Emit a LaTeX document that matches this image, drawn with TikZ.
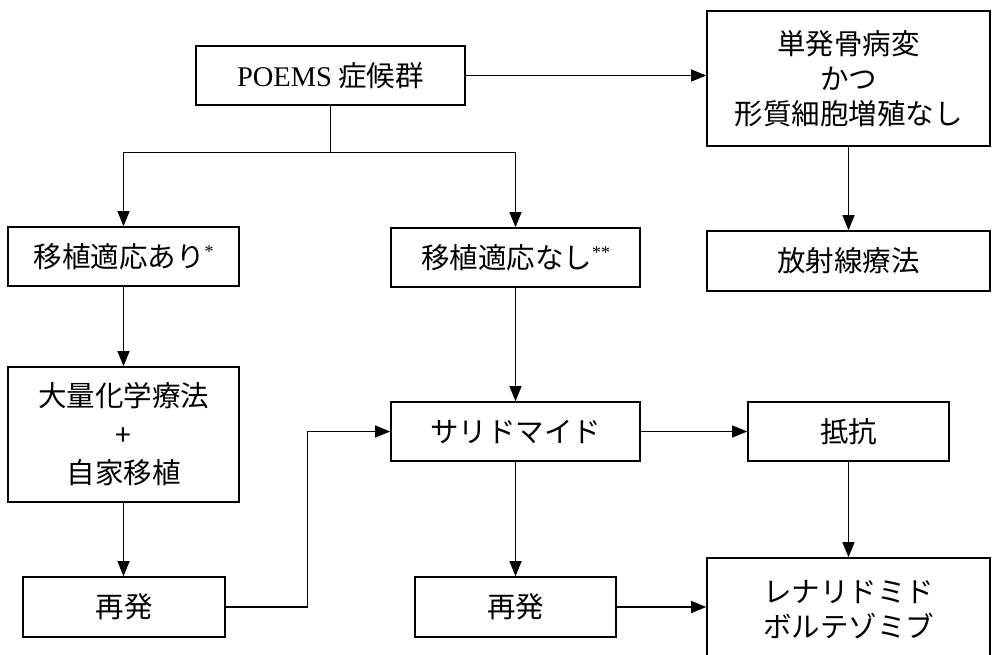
\documentclass[tikz,border=0pt]{standalone}
\usepackage{fontspec}
\setmainfont{Liberation Serif}
\newfontfamily\jp{Noto Sans CJK JP}
\usetikzlibrary{arrows.meta}
\newcommand\supast[1]{\raisebox{10pt}{\rmfamily\fontsize{18}{18}\selectfont #1}}
\tikzset{
  box/.style={draw=black, line width=1.6pt, inner sep=0pt, align=center,
    font=\jp\fontsize{28.5}{35}\selectfont},
  conn/.style={line width=1.1pt, -{Triangle[length=15pt,width=12pt]}},
  plain/.style={line width=1.1pt},
}
\begin{document}
\begin{tikzpicture}[x=1pt,y=-1pt]
\useasboundingbox (0,0) rectangle (993,654);
\clip (0,0) rectangle (993,654);
\fill[white] (0,0) rectangle (993,654);
% nodes
\node[box, minimum width=269pt, minimum height=59pt] (poems) at (330.5,75.5) {{\rmfamily POEMS} 症候群};
\node[box, minimum width=283pt, minimum height=135pt] (solo) at (848.5,78.5) {単発骨病変\\かつ\\形質細胞増殖なし};
\node[box, minimum width=231pt, minimum height=59pt] (yes) at (123.5,256.5) {移植適応あり\supast{*}};
\node[box, minimum width=249pt, minimum height=59pt] (no) at (515.5,257.5) {移植適応なし\supast{**}};
\node[box, minimum width=283pt, minimum height=60pt] (radio) at (848.5,261) {放射線療法};
\node[box, minimum width=231pt, minimum height=135pt, font=\jp\fontsize{28.5}{38.5}\selectfont] (hdc) at (123.5,434.5) {大量化学療法\\+\\自家移植};
\node[box, minimum width=249pt, minimum height=59pt] (thal) at (515.5,431.5) {サリドマイド};
\node[box, minimum width=201pt, minimum height=59pt] (resist) at (848.5,431.5) {抵抗};
\node[box, minimum width=202pt, minimum height=60pt] (rel1) at (124,607) {再発};
\node[box, minimum width=201pt, minimum height=60pt] (rel2) at (515.5,607) {再発};
\node[box, minimum width=283pt, minimum height=104pt] (lena) at (848.5,610) {レナリドミド\\ボルテゾミブ};
% connectors
\draw[conn] (poems.east) -- (poems.east -| solo.west);
\path (poems.south) +(0,47) coordinate (split);
\draw[plain] (poems.south) -- (split);
\draw[conn] (split) -| (yes.north);
\draw[conn] (split) -| (no.north);
\draw[conn] (solo.south) -- (radio.north);
\draw[conn] (yes.south) -- (hdc.north);
\draw[conn] (hdc.south) -- (hdc.south |- rel1.north);
\draw[conn] (rel1.east) -- ++(82,0) |- (thal.west);
\draw[conn] (no.south) -- (thal.north);
\draw[conn] (thal.east) -- (resist.west);
\draw[conn] (thal.south) -- (rel2.north);
\draw[conn] (resist.south) -- (lena.north);
\draw[conn] (rel2.east) -- (rel2.east -| lena.west);
\end{tikzpicture}
\end{document}
